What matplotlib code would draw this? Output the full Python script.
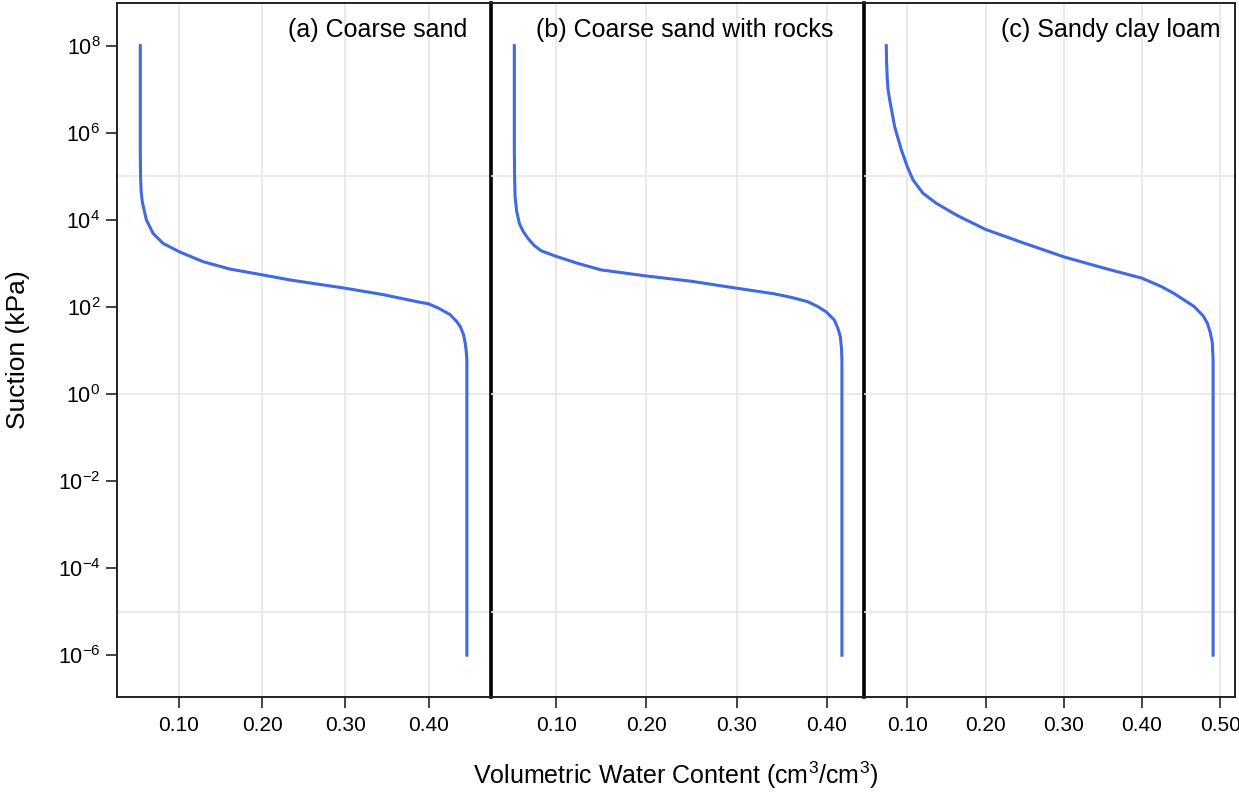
import matplotlib
matplotlib.use("Agg")
import matplotlib.pyplot as plt
import numpy as np

plt.rcParams['font.family'] = ['Liberation Sans', 'DejaVu Sans']
plt.rcParams['mathtext.fontset'] = 'custom'
plt.rcParams['mathtext.rm'] = 'Liberation Sans'
plt.rcParams['mathtext.it'] = 'Liberation Sans:italic'
plt.rcParams['mathtext.bf'] = 'Liberation Sans:bold'

# panel titles
titles = ["(a) Coarse sand", "(b) Coarse sand with rocks", "(c) Sandy clay loam"]

# curves: water content and log10 of suction (kPa)
theta_a = [0.0535, 0.0535, 0.0538, 0.0545, 0.0560, 0.0590, 0.0608, 0.0688, 0.0808,
           0.100, 0.1288, 0.161, 0.199, 0.233, 0.2995,
           0.346, 0.366, 0.386, 0.400, 0.412, 0.426, 0.434, 0.438, 0.442, 0.444,
           0.4453, 0.446, 0.446, 0.446]
logh_a = [8.0, 5.61, 5.0, 4.65, 4.40, 4.15, 4.0, 3.69, 3.46,
          3.27, 3.04, 2.87, 2.74, 2.62, 2.43,
          2.28, 2.20, 2.12, 2.07, 1.97, 1.82, 1.66, 1.55, 1.36, 1.17,
          0.97, 0.78, 0.0, -6.0]

theta_b = [0.0534, 0.0534, 0.0537, 0.0542, 0.0560, 0.0589, 0.0630, 0.0683, 0.0750,
           0.0830, 0.100, 0.1237, 0.1496, 0.200, 0.2495, 0.300, 0.342, 0.3605,
           0.379, 0.390, 0.3993, 0.4085, 0.4125, 0.4152, 0.4165, 0.417, 0.417, 0.417]
logh_b = [8.0, 5.61, 5.0, 4.54, 4.20, 3.92, 3.74, 3.58, 3.42,
          3.29, 3.16, 3.00, 2.85, 2.71, 2.59, 2.43, 2.30, 2.22,
          2.12, 2.01, 1.89, 1.70, 1.51, 1.32, 1.05, 0.78, 0.0, -6.0]

theta_c = [0.0731, 0.0735, 0.0744, 0.0753, 0.0774, 0.0838, 0.0923, 0.100,
           0.1072, 0.120, 0.137, 0.1627, 0.200, 0.2436, 0.300,
           0.3515, 0.400, 0.4245, 0.441, 0.4666, 0.478, 0.4836, 0.4876, 0.490,
           0.491, 0.491, 0.491]
logh_c = [8.0, 7.6, 7.22, 7.0, 6.76, 6.14, 5.61, 5.22,
          4.92, 4.61, 4.38, 4.11, 3.78, 3.50, 3.15,
          2.89, 2.66, 2.47, 2.31, 2.01, 1.80, 1.63, 1.40, 1.17,
          0.78, 0.0, -6.0]

x_ticks_a = [0.10, 0.20, 0.30, 0.40]
x_ticks_b = [0.10, 0.20, 0.30, 0.40]
x_ticks_c = [0.10, 0.20, 0.30, 0.40, 0.50]
y_exponents = [-6, -4, -2, 0, 2, 4, 6, 8]
y_grid_exponents = [-5, 0, 5]

panels = [
    (theta_a, logh_a, x_ticks_a, (0.0255, 0.475), 117, 374, 0.936),
    (theta_b, logh_b, x_ticks_b, (0.0275, 0.4415), 491, 373, 0.917),
    (theta_c, logh_c, x_ticks_c, (0.0446, 0.519), 864, 371, 0.962),
]

W, H = 1239, 795
fig = plt.figure(figsize=(W / 100, H / 100), dpi=100)

line_color = "#4169E1"
grid_color = "#E6E6E6"

for i, (theta, logh, xt, xlim, left, width, tx) in enumerate(panels):
    ax = fig.add_axes([left / W, 1 - 697 / H, width / W, 694 / H])
    ax.patch.set_visible(False)
    ax.set_yscale("log")
    ax.set_xlim(*xlim)
    ax.set_ylim(10 ** -6.96, 10 ** 8.98)

    for x in xt:
        ax.axvline(x, color=grid_color, lw=1.2, zorder=0)
    for e in y_grid_exponents:
        ax.axhline(10.0 ** e, color=grid_color, lw=1.2, zorder=0)

    ax.plot(theta, np.power(10.0, logh), color=line_color, lw=2.2, zorder=3)

    ax.set_xticks(xt)
    ax.set_xticklabels([f"{v:.2f}" for v in xt])
    ax.tick_params(axis="x", length=8, width=1.2, labelsize=15, pad=6,
                   color="#222222")
    ax.minorticks_off()

    if i == 0:
        ax.set_yticks([10.0 ** e for e in y_exponents])
        ax.set_yticklabels([f"$10^{{{e}}}$" for e in y_exponents])
        ax.tick_params(axis="y", length=8, width=1.2, labelsize=15.5, pad=4,
                       color="#222222")
    else:
        ax.set_yticks([])
        ax.spines["left"].set_visible(False)

    for s in ["top", "bottom", "left", "right"]:
        ax.spines[s].set_linewidth(1.4)
        ax.spines[s].set_color("#222222")
    if i < 2:
        ax.spines["right"].set_linewidth(2.6)
        ax.spines["right"].set_color("black")

    ax.text(tx, 0.961, titles[i], transform=ax.transAxes, ha="right",
            va="center", fontsize=18)

fig.text(676 / W, 1 - 775 / H,
         r"Volumetric Water Content $(\mathrm{cm}^3/\mathrm{cm}^3)$",
         ha="center", va="center", fontsize=18)
fig.text(18 / W, 1 - 350 / H, "Suction (kPa)", rotation=90,
         ha="center", va="center", fontsize=19)

fig.savefig("out.png", dpi=100)
plt.close()
